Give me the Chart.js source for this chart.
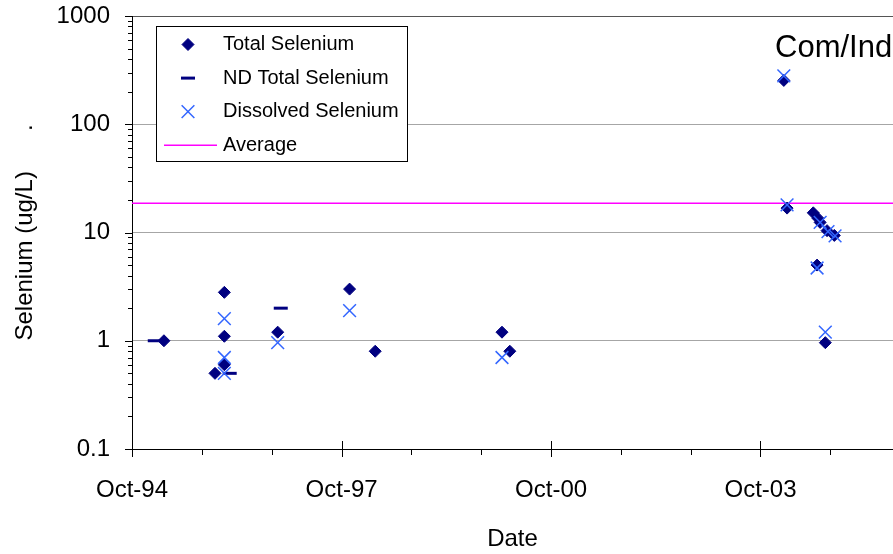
<!DOCTYPE html>
<html>
<head>
<meta charset="utf-8">
<script src="https://cdn.jsdelivr.net/npm/chart.js@4.4.1/dist/chart.umd.min.js"></script>
<style>
  html, body { margin: 0; padding: 0; background: #fff; overflow: hidden; }
  canvas { display: block; }
</style>
</head>
<body>
<canvas id="seChart" width="893" height="554"></canvas>
<script>
// Selenium samples, ug/L
const totalDates = ["1995-03-17", "1995-12-09", "1996-01-27", "1996-01-27", "1996-01-27",
  "1996-11-01", "1997-11-12", "1998-03-26", "2000-01-18", "2000-02-28",
  "2004-01-31", "2004-02-17", "2004-07-03", "2004-07-28", "2004-08-08",
  "2004-09-13", "2004-10-21", "2004-07-23", "2004-09-04"];
const totalValues = [1.0, 0.5, 2.8, 1.1, 0.6,
  1.2, 3.0, 0.8, 1.2, 0.8,
  254, 16.8, 15.2, 13.5, 12.4,
  10.4, 9.4, 5.0, 0.96];

const ndDates = ["1995-01-28", "1996-02-24", "1996-11-17"];
const ndValues = [1.0, 0.5, 2.0];

const dissolvedDates = ["1996-01-27", "1996-01-27", "1996-01-27", "1996-11-01", "1997-11-12",
  "2000-01-18", "2004-01-31", "2004-02-17", "2004-08-08", "2004-09-18",
  "2004-10-25", "2004-07-23", "2004-09-04"];
const dissolvedValues = [1.6, 0.7, 0.5, 0.96, 1.9,
  0.7, 280, 18, 12.4, 10.2,
  9.3, 4.7, 1.2];

const AVERAGE = 18.6;

const X_START = "1994-10-01";
const X_END = "2005-08-24";
const xLabelYears = [1994, 1997, 2000, 2003];
const yMajorTicks = [0.1, 1, 10, 100, 1000];

const FONT = "'Liberation Sans', Arial, sans-serif";
const NAVY = "#000080";
const BLUE = "#3366ff";
const MAGENTA = "#ff00ff";

Chart.defaults.font.family = FONT;
Chart.defaults.color = "#000";

const toDay = s => Date.parse(s + "T00:00:00Z") / 86400000;
const points = (dates, vals) => dates.map((d, i) => ({ x: toDay(d), y: vals[i] }));
const isPow10 = v => Math.abs(Math.log10(v) - Math.round(Math.log10(v))) < 1e-9;

const xMin = toDay(X_START);
const xMax = toDay(X_END);

// one tick every October, labels every third year
function octoberTicks(scale) {
  const ticks = [];
  for (let yr = 1994; yr <= 2005; yr++) {
    const v = Date.UTC(yr, 9, 1) / 86400000;
    if (v >= xMin && v <= xMax) ticks.push({ value: v, major: xLabelYears.includes(yr), year: yr });
  }
  scale.ticks = ticks;
}

function decadeTicks(scale) {
  const ticks = [];
  yMajorTicks.forEach((base, i) => {
    ticks.push({ value: base, major: true });
    if (i < yMajorTicks.length - 1) {
      for (let m = 2; m <= 9; m++) ticks.push({ value: base * m, major: false });
    }
  });
  scale.ticks = ticks;
}

// short tick marks on both axes (x majors cross the axis)
const axisTicks = {
  id: "axisTicks",
  afterDraw(chart) {
    const { ctx, chartArea, scales: { x, y } } = chart;
    ctx.save();
    ctx.strokeStyle = "#000";
    ctx.lineWidth = 1;
    ctx.beginPath();
    y.ticks.forEach(t => {
      const py = Math.round(y.getPixelForValue(t.value)) + 0.5;
      const len = isPow10(t.value) ? 7 : 4;
      ctx.moveTo(chartArea.left - len, py);
      ctx.lineTo(chartArea.left, py);
    });
    x.ticks.forEach(t => {
      const px = Math.round(x.getPixelForValue(t.value)) + 0.5;
      const b = chartArea.bottom;
      if (t.major) { ctx.moveTo(px, b - 8); ctx.lineTo(px, b + 8); }
      else { ctx.moveTo(px, b); ctx.lineTo(px, b + 6); }
    });
    ctx.stroke();
    ctx.restore();
  }
};

// boxed legend inside the plot area
const legendBox = {
  id: "legendBox",
  afterDraw(chart) {
    const { ctx } = chart;
    ctx.save();
    ctx.fillStyle = "#fff";
    ctx.fillRect(156.5, 26.5, 251, 135);
    ctx.strokeStyle = "#000";
    ctx.lineWidth = 1;
    ctx.strokeRect(156.5, 26.5, 251, 135);
    ctx.font = "20px " + FONT;
    ctx.textBaseline = "middle";
    chart.data.datasets.forEach((ds, i) => {
      const ry = 44.5 + i * 33.6;
      if (ds.type === "line") {
        ctx.strokeStyle = ds.borderColor;
        ctx.lineWidth = ds.borderWidth;
        ctx.beginPath();
        ctx.moveTo(164, ry);
        ctx.lineTo(217, ry);
        ctx.stroke();
      } else {
        ctx.fillStyle = ds.backgroundColor;
        ctx.strokeStyle = ds.borderColor;
        ctx.lineWidth = ds.pointBorderWidth;
        Chart.helpers.drawPoint(ctx, {
          pointStyle: ds.pointStyle, radius: ds.pointRadius,
          borderWidth: ds.pointBorderWidth, rotation: 0
        }, 188, ry);
      }
      ctx.fillStyle = "#000";
      ctx.fillText(ds.label, 223, ry);
    });
    ctx.restore();
  }
};

const zoneLabel = {
  id: "zoneLabel",
  afterDraw(chart) {
    const { ctx } = chart;
    ctx.save();
    ctx.font = "31px " + FONT;
    ctx.fillStyle = "#000";
    ctx.textBaseline = "alphabetic";
    ctx.fillText("Com/Ind", 775, 57);
    ctx.restore();
  }
};

new Chart(document.getElementById("seChart"), {
  type: "scatter",
  data: {
    datasets: [
      {
        label: "Total Selenium", data: points(totalDates, totalValues),
        pointStyle: "rectRot", pointRadius: 6, pointBorderWidth: 1,
        backgroundColor: NAVY, borderColor: NAVY, order: 1
      },
      {
        label: "ND Total Selenium", data: points(ndDates, ndValues),
        pointStyle: "line", pointRadius: 7, pointBorderWidth: 3,
        backgroundColor: NAVY, borderColor: NAVY, order: 2
      },
      {
        label: "Dissolved Selenium", data: points(dissolvedDates, dissolvedValues),
        pointStyle: "crossRot", pointRadius: 9, pointBorderWidth: 1.5,
        backgroundColor: BLUE, borderColor: BLUE, order: 0
      },
      {
        type: "line", label: "Average",
        data: [{ x: xMin, y: AVERAGE }, { x: xMax, y: AVERAGE }],
        borderColor: MAGENTA, borderWidth: 1.5, pointRadius: 0, fill: false, order: 3
      }
    ]
  },
  options: {
    responsive: false,
    animation: false,
    devicePixelRatio: 1,
    layout: { autoPadding: false, padding: { top: 16, right: 0, bottom: 0, left: 0 } },
    plugins: { legend: { display: false }, tooltip: { enabled: false } },
    scales: {
      x: {
        type: "linear", min: xMin, max: xMax,
        afterBuildTicks: octoberTicks,
        afterFit: s => { s.height = 105; s.paddingLeft = 0; s.paddingRight = 0; },
        grid: { display: false, drawTicks: false },
        border: { display: true, color: "#000", width: 1 },
        ticks: {
          autoSkip: false, maxRotation: 0, padding: 27, font: { size: 24 },
          callback: function (v, i, ticks) {
            const t = ticks[i];
            return t.major ? "Oct-" + String(t.year).slice(2) : "";
          }
        },
        title: { display: true, text: "Date", font: { size: 24 }, padding: { top: 0, bottom: 0 } }
      },
      y: {
        type: "logarithmic", min: 0.1, max: 1000,
        afterBuildTicks: decadeTicks,
        afterFit: s => { s.width = 132; s.paddingTop = 0; s.paddingBottom = 0; },
        grid: {
          drawTicks: false,
          color: c => {
            const v = c.tick ? c.tick.value : 0;
            if (!isPow10(v) || v <= 0.1) return "rgba(0,0,0,0)";
            return v >= 1000 ? "#555555" : "#a6a6a6";
          }
        },
        border: { display: true, color: "#000", width: 1 },
        ticks: {
          autoSkip: false, padding: 22, font: { size: 24 },
          callback: v => isPow10(v) ? String(v) : ""
        },
        title: {
          display: true, text: "Selenium (ug/L)      .", font: { size: 24 },
          padding: { top: 11, bottom: 0 }
        }
      }
    }
  },
  plugins: [axisTicks, legendBox, zoneLabel]
});
</script>
</body>
</html>
